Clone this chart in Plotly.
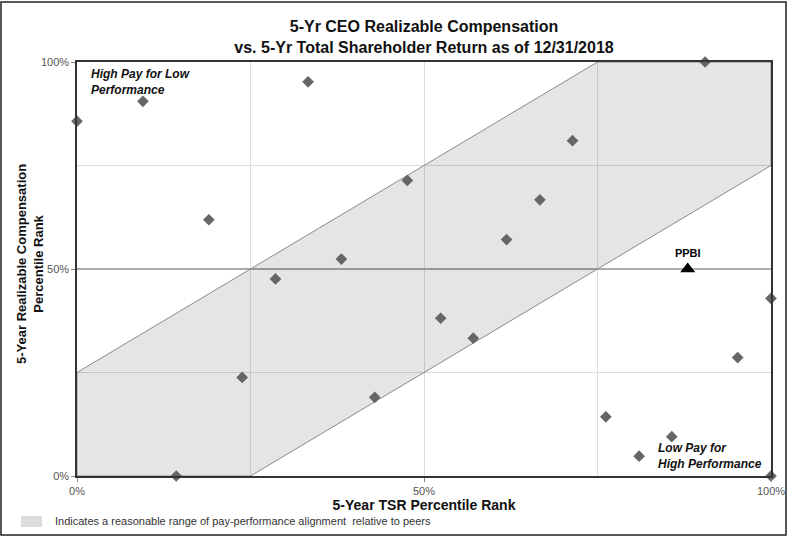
import plotly.graph_objects as go

# Peer data (5-yr TSR percentile rank, 5-yr realizable comp percentile rank)
tsr_rank = [0.0, 0.095, 0.143, 0.190, 0.238, 0.286, 0.333, 0.381, 0.429, 0.476, 0.524,
            0.571, 0.619, 0.667, 0.714, 0.762, 0.810, 0.857, 0.905, 0.952, 1.0, 1.0]
comp_rank = [0.857, 0.905, 0.0, 0.619, 0.238, 0.476, 0.952, 0.524, 0.190, 0.714, 0.381,
             0.333, 0.571, 0.667, 0.810, 0.143, 0.048, 0.095, 1.0, 0.286, 0.429, 0.0]

# Company
company = "PPBI"
company_tsr = [0.88]
company_comp = [0.50]

# Alignment band polygon (TSR, comp)
band_x = [0.0, 0.0, 0.75, 1.0, 1.0, 0.25, 0.0]
band_y = [0.0, 0.25, 1.0, 1.0, 0.75, 0.0, 0.0]
band_label = "Indicates a reasonable range of pay-performance alignment  relative to peers"

tick_vals = [0, 0.5, 1]
tick_text = ["0%", "50%", "100%"]
minor_vals = [0.25, 0.75]

FONT = "Liberation Sans, Arial, sans-serif"

fig = go.Figure()

fig.add_trace(go.Scatter(
    x=band_x, y=band_y, mode="lines", fill="toself",
    fillcolor="rgba(0,0,0,0.10)",
    line=dict(color="#8a8a8a", width=1),
    name=band_label, showlegend=False, hoverinfo="skip",
))

fig.add_trace(go.Scatter(
    x=tsr_rank, y=comp_rank, mode="markers",
    marker=dict(symbol="diamond", size=9, color="#666666"),
    showlegend=False, cliponaxis=False,
))

fig.add_trace(go.Scatter(
    x=company_tsr, y=company_comp, mode="markers+text",
    marker=dict(symbol="triangle-up", size=13, color="black"),
    text=["<b>" + company + "</b>"], textposition="top center",
    textfont=dict(family=FONT, size=11, color="black"),
    showlegend=False, cliponaxis=False,
))

L, R, T, B = 77, 16, 62, 60
W, H = 787, 536
pw, ph = W - L - R, H - T - B

def px_to_paper_x(px):
    return (px - L) / pw

def px_to_paper_y(py):
    return (H - B - py) / ph

fig.update_layout(
    width=W, height=H,
    margin=dict(l=L, r=R, t=T, b=B, autoexpand=False),
    paper_bgcolor="white", plot_bgcolor="white",
    font=dict(family=FONT, size=11, color="#222"),
    showlegend=False,
    title=dict(
        text="<b>5-Yr CEO Realizable Compensation<br>vs. 5-Yr Total Shareholder Return as of 12/31/2018</b>",
        x=px_to_paper_x(424), xref="paper", xanchor="center",
        y=1 - 32 / H, yanchor="middle",
        font=dict(family=FONT, size=16, color="#111"),
    ),
    xaxis=dict(
        range=[0, 1], tickvals=tick_vals, ticktext=tick_text, automargin=False,
        showgrid=True, gridcolor="#dddddd", gridwidth=1,
        minor=dict(tickvals=minor_vals, showgrid=True, gridcolor="#dddddd", gridwidth=1, ticks=""),
        showline=True, linecolor="#333", linewidth=1.5, mirror=True,
        ticks="outside", ticklen=4, tickcolor="#888",
        tickfont=dict(family=FONT, size=11, color="#555555"),
        zeroline=False,
        title=dict(text="<b>5-Year TSR Percentile Rank</b>", standoff=4,
                   font=dict(family=FONT, size=14, color="#111")),
    ),
    yaxis=dict(
        range=[0, 1], tickvals=tick_vals, ticktext=tick_text, automargin=False,
        showgrid=True, gridcolor="#aaaaaa", gridwidth=1.5,
        minor=dict(tickvals=minor_vals, showgrid=True, gridcolor="#dddddd", gridwidth=1, ticks=""),
        showline=True, linecolor="#333", linewidth=1.5, mirror=True,
        ticks="outside", ticklen=4, tickcolor="#888",
        tickfont=dict(family=FONT, size=11, color="#555555"),
        zeroline=False,
    ),
)

# y-axis title as rotated annotation for exact placement
fig.add_annotation(
    text="<b>5-Year Realizable Compensation<br>Percentile Rank</b>",
    xref="paper", yref="paper", x=px_to_paper_x(30), y=px_to_paper_y(264),
    xanchor="center", yanchor="middle", textangle=-90, showarrow=False,
    font=dict(family=FONT, size=13, color="#111"),
)

fig.add_annotation(
    text="<b><i>High Pay for Low<br>Performance</i></b>",
    xref="paper", yref="paper", x=px_to_paper_x(89), y=px_to_paper_y(65),
    xanchor="left", yanchor="top", align="left", showarrow=False,
    font=dict(family=FONT, size=12, color="#111"),
)
fig.add_annotation(
    text="<b><i>Low Pay for<br>High Performance</i></b>",
    xref="paper", yref="paper", x=px_to_paper_x(656), y=px_to_paper_y(473),
    xanchor="left", yanchor="bottom", align="left", showarrow=False,
    font=dict(family=FONT, size=12, color="#111"),
)

# legend swatch and text for the band
fig.add_shape(
    type="rect", xref="paper", yref="paper",
    x0=px_to_paper_x(21), x1=px_to_paper_x(42),
    y0=px_to_paper_y(527), y1=px_to_paper_y(516),
    line=dict(width=0), fillcolor="#dcdcdc",
)
fig.add_annotation(
    text=band_label,
    xref="paper", yref="paper", x=px_to_paper_x(53), y=px_to_paper_y(521),
    xanchor="left", yanchor="middle", showarrow=False,
    font=dict(family=FONT, size=11, color="#333"),
)

# outer frame of the image
fig.add_shape(
    type="rect", xref="paper", yref="paper",
    x0=px_to_paper_x(1), x1=px_to_paper_x(786),
    y0=px_to_paper_y(535), y1=px_to_paper_y(2),
    line=dict(color="#222", width=1.5), fillcolor="rgba(0,0,0,0)",
)

fig.write_html(
    "out.html",
    config={"displayModeBar": False},
    post_script="document.body.style.margin='0';document.body.style.padding='0';",
)
